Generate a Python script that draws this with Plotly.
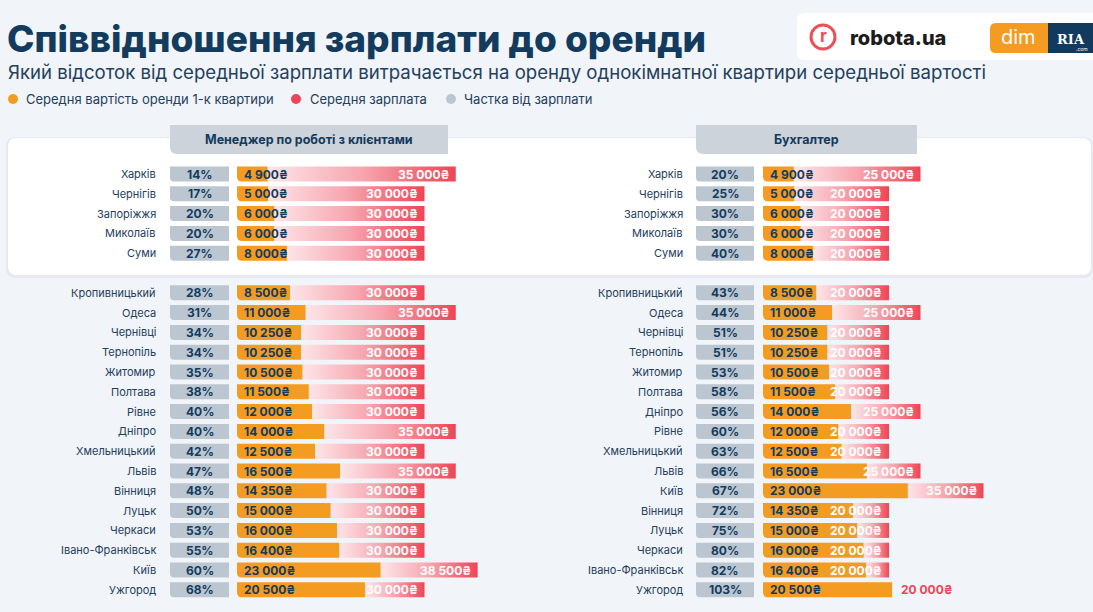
import plotly.graph_objects as go

W, H = 1093, 612

title = "Співвідношення зарплати до оренди"
subtitle = "Який відсоток від середньої зарплати витрачається на оренду однокімнатної квартири середньої вартості"
legend_labels = ["Середня вартість оренди 1-к квартири", "Середня зарплата", "Частка від зарплати"]

left_title = "Менеджер по роботі з клієнтами"
left_cities = ["Харків", "Чернігів", "Запоріжжя", "Миколаїв", "Суми", "Кропивницький", "Одеса",
               "Чернівці", "Тернопіль", "Житомир", "Полтава", "Рівне", "Дніпро", "Хмельницький",
               "Львів", "Вінниця", "Луцьк", "Черкаси", "Івано-Франківськ", "Київ", "Ужгород"]
left_pct = [14, 17, 20, 20, 27, 28, 31, 34, 34, 35, 38, 40, 40, 42, 47, 48, 50, 53, 55, 60, 68]
left_rent = [4900, 5000, 6000, 6000, 8000, 8500, 11000, 10250, 10250, 10500, 11500, 12000, 14000,
             12500, 16500, 14350, 15000, 16000, 16400, 23000, 20500]
left_salary = [35000, 30000, 30000, 30000, 30000, 30000, 35000, 30000, 30000, 30000, 30000, 30000,
               35000, 30000, 35000, 30000, 30000, 30000, 30000, 38500, 30000]

right_title = "Бухгалтер"
right_cities = ["Харків", "Чернігів", "Запоріжжя", "Миколаїв", "Суми", "Кропивницький", "Одеса",
                "Чернівці", "Тернопіль", "Житомир", "Полтава", "Дніпро", "Рівне", "Хмельницький",
                "Львів", "Київ", "Вінниця", "Луцьк", "Черкаси", "Івано-Франківськ", "Ужгород"]
right_pct = [20, 25, 30, 30, 40, 43, 44, 51, 51, 53, 58, 56, 60, 63, 66, 67, 72, 75, 80, 82, 103]
right_rent = [4900, 5000, 6000, 6000, 8000, 8500, 11000, 10250, 10250, 10500, 11500, 14000, 12000,
              12500, 16500, 23000, 14350, 15000, 16000, 16400, 20500]
right_salary = [25000, 20000, 20000, 20000, 20000, 20000, 25000, 20000, 20000, 20000, 20000, 25000,
                20000, 20000, 25000, 35000, 20000, 20000, 20000, 20000, 20000]

TOP_GROUP = 5

# ---------- style ----------
FONT = "Inter, 'Open Sans', 'DejaVu Sans', sans-serif"
NAVY = "#123B5E"
TEXT = "#23405C"
ORANGE = "#F49B21"
RED = "#EE4556"
GRAY = "#BBC6D0"
HEAD = "#CCD3DA"
BG = "#F1F4F8"

ROW0_PX = 174.0
ROW_STEP = 19.8
BAR_W = 0.76
BAR_PX = BAR_W * ROW_STEP
LEFT_ZERO_PX, LEFT_K = 237.0, 0.00625
RIGHT_ZERO_PX, RIGHT_K = 763.0, 0.0063


def slot(i):
    return i if i < TOP_GROUP else i + 1


def fmt(v):
    return f"{v:,}".replace(",", " ") + "₴"


def fx(px):
    return px / W


def fy(py):
    return 1 - py / H


def rrect(x0, y0, x1, y1, r, corners=(1, 1, 1, 1)):
    tl, tr, br, bl = [r if c else 0 for c in corners]
    p = f"M{fx(x0 + tl)},{fy(y0)} L{fx(x1 - tr)},{fy(y0)}"
    if tr:
        p += f" Q{fx(x1)},{fy(y0)} {fx(x1)},{fy(y0 + tr)}"
    p += f" L{fx(x1)},{fy(y1 - br)}"
    if br:
        p += f" Q{fx(x1)},{fy(y1)} {fx(x1 - br)},{fy(y1)}"
    p += f" L{fx(x0 + bl)},{fy(y1)}"
    if bl:
        p += f" Q{fx(x0)},{fy(y1)} {fx(x0)},{fy(y1 - bl)}"
    p += f" L{fx(x0)},{fy(y0 + tl)}"
    if tl:
        p += f" Q{fx(x0)},{fy(y0)} {fx(x0 + tl)},{fy(y0)}"
    return p + " Z"


def corner_mask(x0, y1, r):
    # area outside a rounded bottom-left corner
    return (f"M{fx(x0)},{fy(y1 - r)} Q{fx(x0)},{fy(y1)} {fx(x0 + r)},{fy(y1)} "
            f"L{fx(x0 - 0.5)},{fy(y1 + 0.5)} Z")


fig = go.Figure()
shapes = []
ann = []


def panel(cities, pct, rent, salary, xaxis, label_px, box_x0, box_x1, zero_px):
    slots = [slot(i) for i in range(len(cities))]
    # rent bars
    fig.add_trace(go.Bar(x=rent, y=slots, orientation="h", width=BAR_W, base=0,
                         marker=dict(color=ORANGE, line=dict(width=0)),
                         xaxis=xaxis, yaxis="y", showlegend=False, hoverinfo="skip"))
    # salary gradient bars
    for s, r, sal in zip(slots, rent, salary):
        if sal > r:
            y0, y1 = s - BAR_W / 2, s + BAR_W / 2
            fig.add_trace(go.Scatter(
                x=[r, sal, sal, r, r], y=[y0, y0, y1, y1, y0], mode="lines",
                fill="toself", line=dict(width=0),
                fillgradient=dict(type="horizontal",
                                  colorscale=[[0, "#FDE5E8"], [0.5, "#F6A6AF"], [1, RED]]),
                xaxis=xaxis, yaxis="y", showlegend=False, hoverinfo="skip"))
    xref = "x" if xaxis == "x" else "x2"
    for c, s, p, r, sal in zip(cities, slots, pct, rent, salary):
        ann.append(dict(text=c, x=fx(label_px), xref="paper", y=s, yref="y", xanchor="right",
                        yanchor="middle", showarrow=False,
                        font=dict(family=FONT, size=11, color=TEXT)))
        ann.append(dict(text=f"{p}%", x=fx((box_x0 + box_x1) / 2), xref="paper", y=s, yref="y",
                        xanchor="center", yanchor="middle", showarrow=False,
                        font=dict(family=FONT, size=12, color=NAVY, weight=700)))
        ann.append(dict(text=fmt(r), x=0, xref=xref, xshift=5, y=s, yref="y", xanchor="left",
                        yanchor="middle", showarrow=False,
                        font=dict(family=FONT, size=12, color=NAVY, weight=700)))
        if sal > r:
            ann.append(dict(text=fmt(sal), x=sal, xref=xref, xshift=-5, y=s, yref="y",
                            xanchor="right", yanchor="middle", showarrow=False,
                            font=dict(family=FONT, size=12, color="white", weight=700)))
        else:
            ann.append(dict(text=fmt(sal), x=r, xref=xref, xshift=7, y=s, yref="y",
                            xanchor="left", yanchor="middle", showarrow=False,
                            font=dict(family=FONT, size=12, color=RED, weight=700)))
        py = ROW0_PX + ROW_STEP * s
        shapes.append(dict(type="path", path=rrect(box_x0, py - BAR_PX / 2, box_x1, py + BAR_PX / 2,
                                                   4, (0, 0, 0, 1)),
                           xref="paper", yref="paper", fillcolor=GRAY, line=dict(width=0), layer="below"))
        # rounded bottom-left corner of the rent bar
        shapes.append(dict(type="path", path=corner_mask(zero_px, py + BAR_PX / 2, 5),
                           xref="paper", yref="paper", fillcolor="white" if s < TOP_GROUP else BG,
                           line=dict(width=0), layer="above"))


# white highlight box with soft shadow
shapes.append(dict(type="path", path=rrect(6, 137, 1093, 278, 10), xref="paper", yref="paper",
                   fillcolor="rgba(40,60,90,0.05)", line=dict(width=0), layer="below"))
shapes.append(dict(type="path", path=rrect(8, 138, 1091, 275, 9), xref="paper", yref="paper",
                   fillcolor="white", line=dict(width=0), layer="below"))
# panel headers
for (x0, x1, t) in [(170, 448, left_title), (696, 917, right_title)]:
    shapes.append(dict(type="path", path=rrect(x0, 125, x1, 154, 7, (0, 0, 0, 1)), xref="paper",
                       yref="paper", fillcolor=HEAD, line=dict(width=0), layer="below"))
    ann.append(dict(text=t, x=fx((x0 + x1) / 2), y=fy(139.5), xref="paper", yref="paper",
                    xanchor="center", yanchor="middle", showarrow=False,
                    font=dict(family=FONT, size=12.5, color=NAVY, weight=700)))

panel(left_cities, left_pct, left_rent, left_salary, "x", 158, 170, 229, LEFT_ZERO_PX)
panel(right_cities, right_pct, right_rent, right_salary, "x2", 685, 696, 754, RIGHT_ZERO_PX)

# title, subtitle
ann.append(dict(text=title, x=fx(5), y=fy(38), xref="paper", yref="paper", xanchor="left",
                yanchor="middle", showarrow=False,
                font=dict(family=FONT, size=37, color=NAVY, weight=800)))
ann.append(dict(text=subtitle, x=fx(6), y=fy(72), xref="paper", yref="paper", xanchor="left",
                yanchor="middle", showarrow=False,
                font=dict(family=FONT, size=18.6, color=TEXT)))

# legend
for (cx, tx, col, lab) in [(13, 24, ORANGE, legend_labels[0]), (296, 308, RED, legend_labels[1]),
                           (451, 462, GRAY, legend_labels[2])]:
    shapes.append(dict(type="circle", x0=fx(cx - 5), x1=fx(cx + 5), y0=fy(104), y1=fy(94),
                       xref="paper", yref="paper", fillcolor=col, line=dict(width=0)))
    ann.append(dict(text=lab, x=fx(tx), y=fy(99), xref="paper", yref="paper", xanchor="left",
                    yanchor="middle", showarrow=False, font=dict(family=FONT, size=13, color=TEXT)))

# logos
shapes.append(dict(type="path", path=rrect(797, 13, 1100, 60, 8), xref="paper", yref="paper",
                   fillcolor="white", line=dict(width=0)))
shapes.append(dict(type="circle", x0=fx(811), x1=fx(835), y0=fy(49), y1=fy(25), xref="paper",
                   yref="paper", fillcolor="white", line=dict(color="#EF4D57", width=3)))
ann.append(dict(text="r", x=fx(823.5), y=fy(36), xref="paper", yref="paper", showarrow=False,
                xanchor="center", yanchor="middle",
                font=dict(family=FONT, size=17, color="#EF4D57", weight=700)))
ann.append(dict(text="robota.ua", x=fx(848), y=fy(38), xref="paper", yref="paper", showarrow=False,
                xanchor="left", yanchor="middle",
                font=dict(family=FONT, size=20, color="#1C1C1C", weight=800)))
shapes.append(dict(type="path", path=rrect(990, 23, 1048, 53, 6, (1, 0, 0, 1)), xref="paper",
                   yref="paper", fillcolor=ORANGE, line=dict(width=0)))
shapes.append(dict(type="rect", x0=fx(1048), x1=fx(1093), y0=fy(53), y1=fy(23), xref="paper",
                   yref="paper", fillcolor="#123A5E", line=dict(width=0)))
ann.append(dict(text="dim", x=fx(1018), y=fy(37), xref="paper", yref="paper", showarrow=False,
                xanchor="center", yanchor="middle",
                font=dict(family=FONT, size=20, color="white")))
ann.append(dict(text="RIA", x=fx(1071), y=fy(40), xref="paper", yref="paper", showarrow=False,
                xanchor="center", yanchor="middle",
                font=dict(family="'DejaVu Serif', serif", size=13, color="white", weight=700)))
ann.append(dict(text=".com", x=fx(1082), y=fy(49), xref="paper", yref="paper", showarrow=False,
                xanchor="center", yanchor="middle",
                font=dict(family=FONT, size=5, color="white")))

fig.update_layout(
    width=W, height=H, margin=dict(l=0, r=0, t=0, b=0),
    paper_bgcolor=BG, plot_bgcolor="rgba(0,0,0,0)",
    barmode="overlay",
    xaxis=dict(domain=[0, 1], range=[-LEFT_ZERO_PX / LEFT_K, (W - LEFT_ZERO_PX) / LEFT_K],
               visible=False, fixedrange=True),
    xaxis2=dict(domain=[0, 1], range=[-RIGHT_ZERO_PX / RIGHT_K, (W - RIGHT_ZERO_PX) / RIGHT_K],
                overlaying="x", anchor="y", visible=False, fixedrange=True),
    yaxis=dict(domain=[0, 1], range=[(H - ROW0_PX) / ROW_STEP, -ROW0_PX / ROW_STEP],
               visible=False, fixedrange=True),
    shapes=shapes, annotations=ann, showlegend=False,
)

fig.write_html("out.html", config={"displayModeBar": False})
